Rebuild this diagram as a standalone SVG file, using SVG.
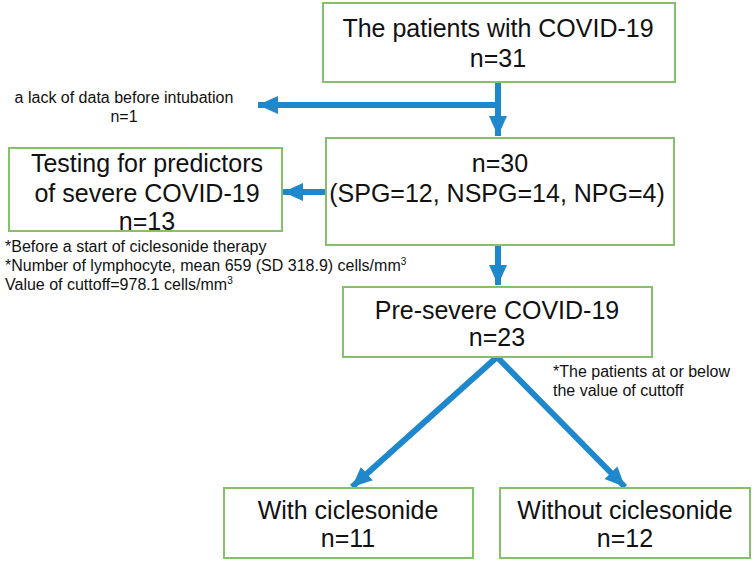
<svg xmlns="http://www.w3.org/2000/svg" width="754" height="563" viewBox="0 0 754 563">
<style>
.box{fill:#fff;stroke:#86c06a;stroke-width:2}
.big{font-family:"Liberation Sans",Arial,sans-serif;font-size:25px;fill:#111;text-anchor:middle}
.sm{font-family:"Liberation Sans",Arial,sans-serif;font-size:16px;fill:#111}
.arr{stroke:#1f87cc;stroke-width:6;fill:none}
</style>
<defs>
<marker id="ah" markerUnits="userSpaceOnUse" markerWidth="22" markerHeight="20" refX="20" refY="10" orient="auto">
<path d="M0,1 L20,10 L0,19 Z" fill="#1f87cc"/>
</marker>
</defs>
<rect width="754" height="563" fill="#fff"/>
<g id="connectors">
<line class="arr" x1="498" y1="82" x2="498" y2="136" marker-end="url(#ah)"/>
<line class="arr" x1="501" y1="105" x2="258" y2="105" marker-end="url(#ah)"/>
<line class="arr" x1="326" y1="192" x2="283" y2="192" marker-end="url(#ah)"/>
<line class="arr" x1="498" y1="245" x2="498" y2="285" marker-end="url(#ah)"/>
<line class="arr" x1="497" y1="357" x2="352" y2="487" marker-end="url(#ah)"/>
<line class="arr" x1="497" y1="357" x2="625" y2="487" marker-end="url(#ah)"/>
</g>
<g id="patients">
<rect class="box" x="323" y="3" width="352" height="79"/>
<text class="big" x="498" y="37">The patients with COVID-19</text>
<text class="big" x="498" y="67">n=31</text>
</g>
<g id="excluded">
<text class="sm" x="124" y="103" text-anchor="middle">a lack of data before intubation</text>
<text class="sm" x="124" y="122" text-anchor="middle">n=1</text>
</g>
<g id="n30">
<rect class="box" x="326" y="138" width="348" height="107"/>
<text class="big" x="500" y="172">n=30</text>
<text class="big" x="497" y="202">(SPG=12, NSPG=14, NPG=4)</text>
</g>
<g id="testing">
<rect class="box" x="9" y="148" width="273" height="83"/>
<text class="big" x="147" y="172">Testing for predictors</text>
<text class="big" x="147" y="202">of severe COVID-19</text>
<text class="big" x="147" y="230">n=13</text>
</g>
<g id="notes">
<text class="sm" x="5" y="252">*Before a start of ciclesonide therapy</text>
<text class="sm" x="5" y="271">*Number of lymphocyte, mean 659 (SD 318.9) cells/mm<tspan font-size="10" dy="-6">3</tspan></text>
<text class="sm" x="5" y="290">Value of cuttoff=978.1 cells/mm<tspan font-size="10" dy="-6">3</tspan></text>
</g>
<g id="presevere">
<rect class="box" x="343" y="287" width="309" height="70"/>
<text class="big" x="497" y="319">Pre-severe COVID-19</text>
<text class="big" x="497" y="346">n=23</text>
</g>
<g id="cutoff-note">
<text class="sm" x="553" y="377">*The patients at or below</text>
<text class="sm" x="553" y="396">the value of cuttoff</text>
</g>
<g id="with">
<rect class="box" x="224" y="488" width="249" height="70"/>
<text class="big" x="348" y="519">With ciclesonide</text>
<text class="big" x="348" y="547">n=11</text>
</g>
<g id="without">
<rect class="box" x="500" y="488" width="250" height="70"/>
<text class="big" x="625" y="519">Without ciclesonide</text>
<text class="big" x="625" y="547">n=12</text>
</g>
</svg>
